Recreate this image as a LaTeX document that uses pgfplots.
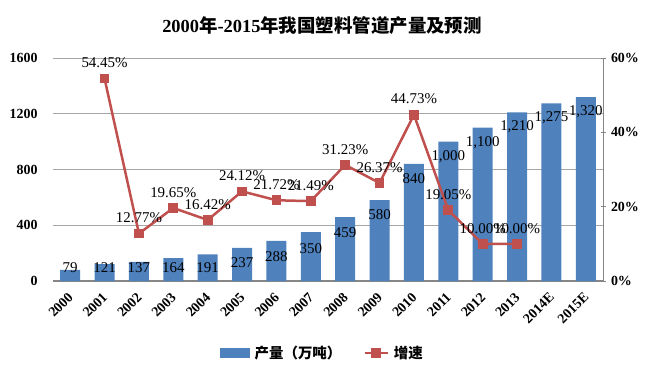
\documentclass[border=0pt]{standalone}
\usepackage{fontspec}
\setmainfont{Liberation Serif}
\newfontfamily\cjk{Noto Sans CJK SC}
\usepackage{pgfplots}
\pgfplotsset{compat=1.18}
\definecolor{barblue}{HTML}{4F81BD}
\definecolor{linered}{HTML}{C0504D}
\definecolor{gridgray}{HTML}{A6A6A6}
\definecolor{axisgray}{HTML}{868686}
\begin{document}
\begin{tikzpicture}
\useasboundingbox (-53bp,-86bp) rectangle (597bp,281bp);
\begin{axis}[at={(0,0)}, anchor=south west, scale only axis,
  width=550bp, height=223bp,
  xmin=-0.5, xmax=15.5, ymin=0, ymax=1600,
  xtick={0,...,15},
  xticklabels={2000,2001,2002,2003,2004,2005,2006,2007,2008,2009,2010,2011,2012,2013,2014E,2015E},
  x tick label style={yshift=-9bp, xshift=-3bp, rotate=45, anchor=north east, font=\fontsize{14}{16}\selectfont\bfseries, inner sep=1bp},
  ytick={0,400,800,1200,1600},
  yticklabels={0,400,800,1200,1600},
  y tick label style={font=\fontsize{14}{16}\selectfont\bfseries, xshift=-12bp},
  ymajorgrids, grid style={gridgray, line width=0.8bp},
  axis x line*=bottom, axis y line*=left,
  y axis line style={draw=none},
  x axis line style={axisgray, line width=1.6bp},
  tick style={draw=none},
  clip=false]
\addplot[ybar, bar width=20bp, fill=barblue, draw=none] coordinates {
(0,79) (1,121) (2,137) (3,164) (4,191) (5,237) (6,288) (7,350)
(8,459) (9,580) (10,840) (11,1000) (12,1100) (13,1210) (14,1275) (15,1320)};
\addplot[draw=none, mark=none, nodes near coords, point meta=explicit symbolic,
  every node near coord/.append style={anchor=center, font=\fontsize{15}{17}\selectfont, text=black}]
coordinates {
(0,93) [79] (1,93) [121] (2,93) [137] (3,93) [164] (4,93) [191]
(5,129) [237] (6,175) [288] (7,235) [350] (8,346) [459] (9,473) [580]
(10,736) [840] (11,890) [{1,000}] (12,990) [{1,100}] (13,1104) [{1,210}]
(14,1170) [{1,275}] (15,1213) [{1,320}]};
\end{axis}
\begin{axis}[at={(0,0)}, anchor=south west, scale only axis,
  width=550bp, height=223bp,
  xmin=-0.5, xmax=15.5, ymin=0, ymax=60,
  axis x line=none, axis y line*=right,
  ytick={0,20,40,60}, yticklabels={0\%,20\%,40\%,60\%},
  y axis line style={axisgray, line width=1bp},
  ytick style={axisgray, line width=1bp},
  major tick length=5bp, tick align=center,
  y tick label style={font=\fontsize{14}{16}\selectfont\bfseries, xshift=2bp},
  clip=false,
  legend style={at={(0.49,-0.323)}, anchor=center, draw=none, fill=none,
    legend columns=2, font={\cjk\fontsize{14.5}{16}\selectfont\bfseries},
    /tikz/every even column/.append style={column sep=20bp},
    /tikz/every odd column/.append style={column sep=3bp}}]
\addlegendimage{legend image code/.code={\fill[barblue] (0bp,-4.5bp) rectangle (29bp,4.5bp);}}
\addlegendentry{产量（万吨）}
\addplot[linered, line width=2.5bp, mark=square*, mark size=3.6bp, mark options={solid},
  nodes near coords, point meta=explicit symbolic,
  every node near coord/.append style={font=\fontsize{15}{17}\selectfont, text=black, yshift=6bp},
  legend image code/.code={\draw[linered, line width=2.5bp] (0bp,0bp) -- (23bp,0bp);
    \fill[linered] (7.5bp,-4bp) rectangle (15.5bp,4bp);}]
coordinates {
(1,54.45) [54.45\%] (2,12.77) [12.77\%] (3,19.65) [19.65\%] (4,16.42) [16.42\%]
(5,24.12) [24.12\%] (6,21.72) [21.72\%] (7,21.49) [21.49\%] (8,31.23) [31.23\%]
(9,26.37) [26.37\%] (10,44.73) [44.73\%] (11,19.05) [19.05\%] (12,10.00) [10.00\%]
(13,10.00) [10.00\%]};
\addlegendentry{增速}
\end{axis}
\node[font=\fontsize{18.5}{22}\selectfont\bfseries] at (269bp,255bp)
  {2000{\cjk 年}-2015{\cjk 年我国塑料管道产量及预测}};
\end{tikzpicture}
\end{document}
